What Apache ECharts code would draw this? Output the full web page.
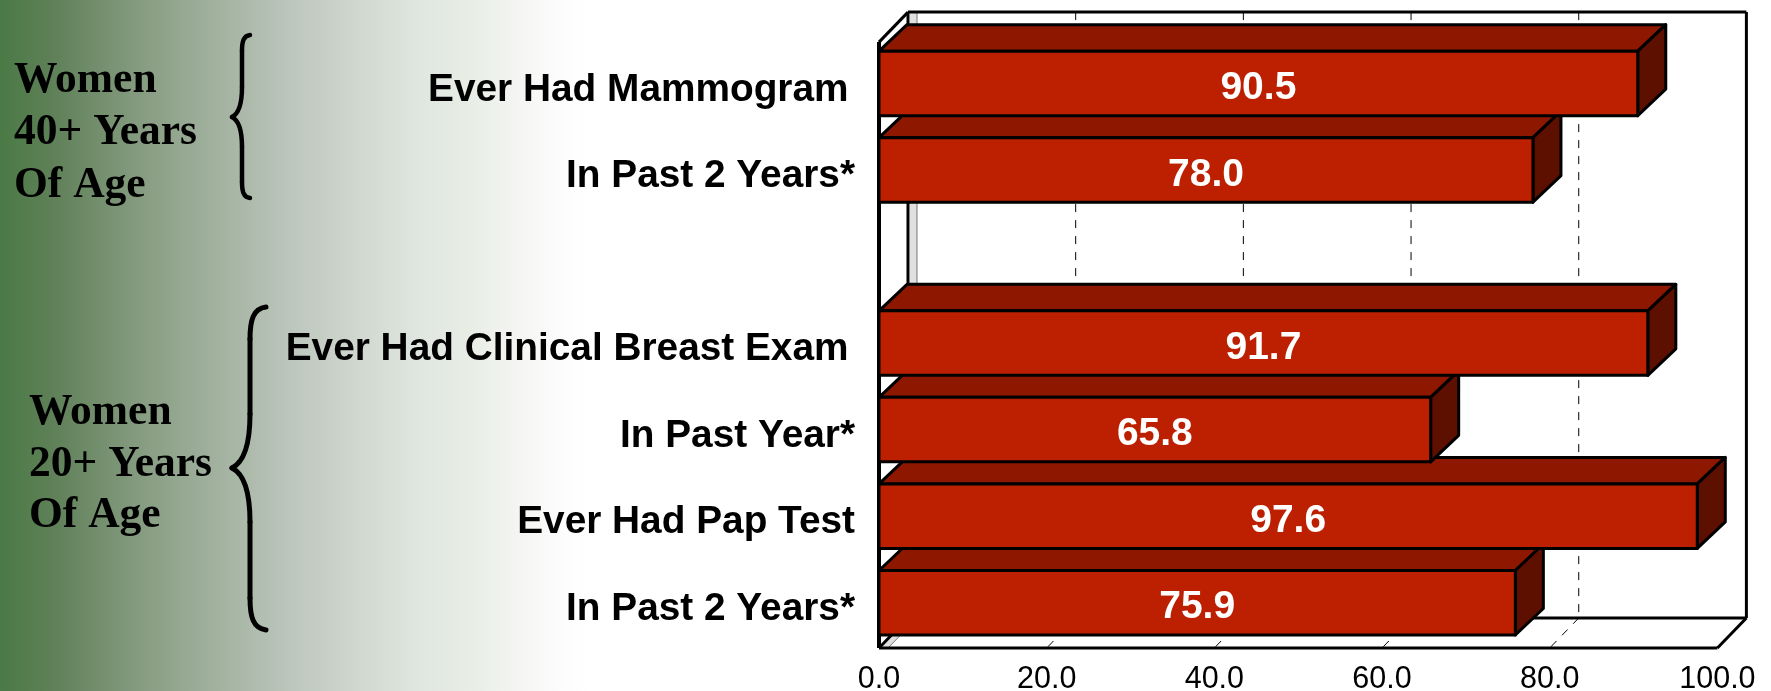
<!DOCTYPE html>
<html><head><meta charset="utf-8">
<style>html,body{margin:0;padding:0;background:#fff;overflow:hidden}#c{width:1771px;height:691px}</style>
<script src="https://cdn.jsdelivr.net/npm/echarts@6/dist/echarts.min.js"></script>
</head><body><div id="c"></div>
<script>
const categories = ["Ever Had Mammogram\u200A\u200A", "In Past 2 Years*", "", "Ever Had Clinical Breast Exam\u200A\u200A", "In Past Year*", "Ever Had Pap Test", "In Past 2 Years*"];
const values = [90.5, 78.0, null, 91.7, 65.8, 97.6, 75.9];
const xTicks = [20, 40, 60, 80];
const groupA = ["Women", "40+ Years", "Of Age"];
const groupB = ["Women", "20+ Years", "Of Age"];

const BAR_H = 64.5, BAR_DX = 28, BAR_DY = 26.5, WALL_DX = 29, WALL_DY = 30, FRAME_SHIFT = 2;
const chart = echarts.init(document.getElementById('c'), null, {renderer:'canvas'});

function poly(points, fill, z2){
  return {type:'polygon', shape:{points}, z2,
    style:{fill, stroke:'#000', lineWidth:3, lineJoin:'round'}};
}
function renderFaces(params, api){
  const v = api.value(0), i = api.value(1);
  const p = api.coord([v, i]), o = api.coord([0, i]);
  const t = p[1]-BAR_H/2, b = p[1]+BAR_H/2, z = 100-i*2;
  return {type:'group', children:[
    poly([[o[0],t],[o[0]+BAR_DX,t-BAR_DY],[p[0]+BAR_DX,t-BAR_DY],[p[0],t]], '#8E1700', z),
    poly([[p[0],t],[p[0]+BAR_DX,t-BAR_DY],[p[0]+BAR_DX,b-BAR_DY],[p[0],b]], '#5E1000', z)
  ]};
}
function renderOutline(params, api){
  const v = api.value(0), i = api.value(1);
  const p = api.coord([v, i]), o = api.coord([0, i]);
  return {type:'rect', silent:true,
    shape:{x:o[0], y:p[1]-BAR_H/2, width:p[0]-o[0], height:BAR_H},
    style:{fill:'none', stroke:'#000', lineWidth:3, lineJoin:'round'}};
}
function line(x1,y1,x2,y2,w,c,dash){
  return {type:'line', shape:{x1,y1,x2,y2}, style:{stroke:c||'#000', lineWidth:w, lineDash:dash||null}};
}
function renderFrame(params, api){
  const cs = params.coordSys;
  const L = cs.x, R = cs.x+cs.width, T = cs.y+FRAME_SHIFT, B = cs.y+cs.height+FRAME_SHIFT;
  const d = WALL_DX, h = WALL_DY;
  const kids = [
    {type:'polygon', shape:{points:[[L+d+2,T-h],[L+d+9,T-h],[L+d+9,B-h],[L+9,B],[L+2,B],[L+d+2,B-h]]}, style:{fill:'#E0E0E0'}},
    line(L+d+9,T-h,L+d+9,B-h,1,'#777'),
    line(L+d+9,B-h,L+9,B,1,'#777')
  ];
  xTicks.forEach(t=>{
    const x = api.coord([t,0])[0];
    kids.push(line(x+d,T-h,x+d,B-h,1,'#000',[8,8]));
    kids.push(line(x+d,B-h,x,B,1,'#000',[8,8]));
  });
  kids.push(
    line(L+d,T-h,R+d,T-h,3),
    line(R+d,T-h,R+d,B-h,3),
    line(L+d,T-h,L+d,B-h,3),
    line(L+d,B-h,R+d,B-h,3),
    line(L,T,L,B,4),
    line(L,B,R,B,3),
    line(L,T,L+d,T-h,3),
    line(L,B,L+d,B-h,3),
    line(R,B,R+d,B-h,3)
  );
  return {type:'group', children:kids};
}
function txt(lines, x, ys){
  return lines.map((s,i)=>({type:'text', left:x, top:ys[i]-19, silent:true,
    style:{text:s, font:'bold 43.5px "Liberation Serif"', fill:'#000'}}));
}
function brace(xTip, xBar, xEnd, yTop, yTip, yBot, w){
  const st = {fill:'none', stroke:'#000', lineWidth:w, lineCap:'round'};
  const r = (xEnd-xBar), k = xBar-xTip;
  const arc = (x1,y1,x2,y2,cx1,cy1,cx2,cy2)=>({type:'bezierCurve', silent:true, shape:{x1,y1,x2,y2,cpx1:cx1,cpy1:cy1,cpx2:cx2,cpy2:cy2}, style:st});
  const seg = (x1,y1,x2,y2)=>({type:'line', silent:true, shape:{x1,y1,x2,y2}, style:st});
  const a = yTop+r*2, c = yTip-k*3, e = yTip+k*3, f = yBot-r*2;
  return [
    arc(xEnd,yTop,xBar,a, xBar+r*0.2,yTop+r*0.1, xBar,yTop+r*0.8),
    seg(xBar,a,xBar,c),
    arc(xBar,c,xTip,yTip, xBar,yTip-k*1.2, xBar-k*0.4,yTip-k*0.3),
    arc(xTip,yTip,xBar,e, xBar-k*0.4,yTip+k*0.3, xBar,yTip+k*1.2),
    seg(xBar,e,xBar,f),
    arc(xBar,f,xEnd,yBot, xBar,yBot-r*0.8, xBar+r*0.2,yBot-r*0.1)
  ];
}
const facesData = values.map((v,i)=>v==null?null:[v,i]).filter(Boolean);

chart.setOption({
  animation:false,
  backgroundColor:new echarts.graphic.LinearGradient(0,0,1,0,[
    {offset:0,color:'#4A7A45'},{offset:0.03,color:'#5F8058'},{offset:0.085,color:'#8A9F85'},
    {offset:0.17,color:'#C0C9C0'},{offset:0.237,color:'#E0E7E0'},{offset:0.265,color:'#E8EDE6'},
    {offset:0.294,color:'#F5F5F3'},{offset:0.316,color:'#FCFCFC'},{offset:0.333,color:'#FFFFFF'},{offset:1,color:'#FFFFFF'}]),
  grid:{left:879, top:40.1, width:838.4, height:605.9, outerBoundsMode:'none'},
  xAxis:{type:'value', min:0, max:100, interval:20,
    axisLine:{show:false}, axisTick:{show:false}, splitLine:{show:false},
    axisLabel:{color:'#000', fontFamily:'Liberation Sans', fontSize:30.5, margin:18, formatter:v=>v.toFixed(1), hideOverlap:false, showMinLabel:true, showMaxLabel:true}},
  yAxis:{type:'category', inverse:true, data:categories,
    axisLine:{show:false}, axisTick:{show:false}, splitLine:{show:false},
    axisLabel:{color:'#000', fontFamily:'Liberation Sans', fontWeight:'bold', fontSize:38.8, margin:24, interval:0, align:'right', verticalAlign:'top', lineHeight:13}},
  series:[
    {type:'custom', name:'frame', z:1, data:[[0,0]], encode:{x:0,y:1}, renderItem:renderFrame, silent:true},
    {type:'custom', name:'faces', z:2, data:facesData, encode:{x:0,y:1}, renderItem:renderFaces, silent:true},
    {type:'bar', name:'Percent', z:3, data:values, barWidth:BAR_H,
      itemStyle:{color:'#BC2000'},
      label:{show:true, position:'inside', color:'#fff', fontFamily:'Liberation Sans', fontWeight:'bold', fontSize:39, formatter:p=>p.value.toFixed(1), offset:[0,5]}},
    {type:'custom', name:'outlines', z:4, data:facesData, encode:{x:0,y:1}, renderItem:renderOutline, silent:true}
  ],
  graphic:[
    ...brace(232,242,250,35,117,198,4.5),
    ...brace(232,250,266,307,468,630,5),
    ...txt(groupA, 14, [78,130,183]),
    ...txt(groupB, 29, [410,462,513])
  ]
});
</script></body></html>
